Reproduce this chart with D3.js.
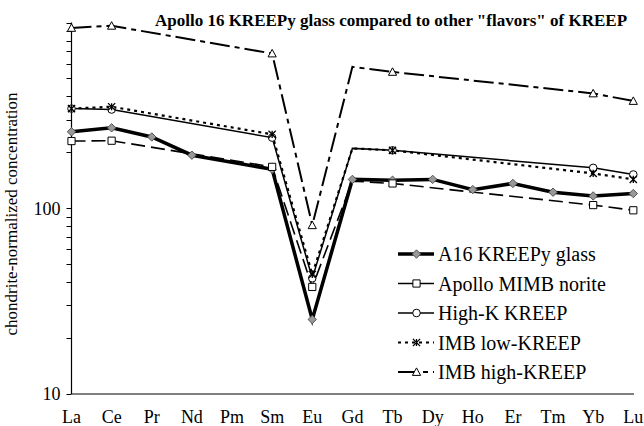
<!DOCTYPE html>
<html lang="en">
<head>
    <meta charset="utf-8">
    <title>Apollo 16 KREEPy glass</title>
    <script src="https://d3js.org/d3.v7.min.js"></script>
    <style>
        html, body { margin: 0; padding: 0; background: #fff; }
        svg text { font-family: "Liberation Serif", "Times New Roman", Times, "DejaVu Serif", serif; fill: #000; }
        .title { font-size: 17px; font-weight: bold; }
        .tick-label { font-size: 18px; }
        .axis-title { font-size: 17px; }
        .legend text { font-size: 20px; }
    </style>
</head>
<body>
<script>
    // REE along the x axis
    var elements = ["La","Ce","Pr","Nd","Pm","Sm","Eu","Gd","Tb","Dy","Ho","Er","Tm","Yb","Lu"];
    var yTicks = [10, 100, 1000];

    // chondrite-normalized values, null = no analysis
    var a16Glass     = [258, 271, 242, 193, null, 162, 25.2, 143, 141.5, 143, 126, 136, 122, 116.5, 120];
    var mimbNorite   = [230, 231, null, null, null, 167, 37.7, 140, 136, null, null, null, null, 104, 97.5];
    var highKKreep   = [344, 340, null, null, null, 240, 42, 210, 205, null, null, null, null, 165, 152];
    var imbLowKreep  = [344, 352, null, null, null, 250, 44, 210, 205, null, null, null, null, 154, 143];
    var imbHighKreep = [935, 960, null, null, null, 681, 81, 577, 542, null, null, null, null, 415, 378];

    var seriesNames = ["A16 KREEPy glass", "Apollo MIMB norite", "High-K KREEP", "IMB low-KREEP", "IMB high-KREEP"];
    var seriesValues = [a16Glass, mimbNorite, highKKreep, imbLowKreep, imbHighKreep];
    // points drawn without a marker
    var unmarked = [[], ["Gd"], ["Gd"], ["Gd"], ["Gd"]];

    var styles = [
        {width: 3.5, dash: null, marker: "diamond"},
        {width: 1.6, dash: "14,6", marker: "square"},
        {width: 1.5, dash: null, marker: "circle"},
        {width: 2.2, dash: "3,4", marker: "star"},
        {width: 2, dash: "20,5,5,5", marker: "triangle"}
    ];

    var W = 644, H = 426;
    var svg = d3.select("body").append("svg").attr("width", W).attr("height", H);

    var x = d3.scalePoint().domain(elements).range([71.5, 633.3]);
    var y = d3.scaleLog().domain([10, 1000]).range([394, 22.5]);

    // title
    svg.append("text").attr("class", "title")
        .attr("x", 391).attr("y", 26).attr("text-anchor", "middle")
        .text('Apollo 16 KREEPy glass compared to other "flavors" of KREEP');

    // y axis with minor ticks
    var minor = [];
    [10, 100].forEach(function(dec) {
        for (var k = 1; k <= 10; k++) minor.push(dec * k);
    });
    minor = minor.filter(function(v, i, a) { return a.indexOf(v) === i; });
    var yAxis = svg.append("g").attr("transform", "translate(71.5,0)");
    yAxis.append("line").attr("x1", 0).attr("x2", 0).attr("y1", y(1000)).attr("y2", y(10))
        .attr("stroke", "#000").attr("stroke-width", 1.2);
    yAxis.selectAll("line.tk").data(minor).enter().append("line").attr("class", "tk")
        .attr("x1", -5).attr("x2", 0)
        .attr("y1", function(d) { return Math.round(y(d)) + 0.5; })
        .attr("y2", function(d) { return Math.round(y(d)) + 0.5; })
        .attr("stroke", "#000").attr("stroke-width", 1);
    yAxis.selectAll("text.tick-label").data(yTicks.slice(0, 2)).enter().append("text")
        .attr("class", "tick-label").attr("x", -11).attr("y", function(d) { return y(d); })
        .attr("dy", "0.35em").attr("text-anchor", "end").text(function(d) { return d; });

    svg.append("text").attr("class", "axis-title")
        .attr("transform", "translate(17,214) rotate(-90)").attr("text-anchor", "middle")
        .text("chondrite-normalized concentration");

    // x axis
    svg.append("line").attr("x1", 71.5).attr("x2", 634).attr("y1", y(10)).attr("y2", y(10))
        .attr("stroke", "#000").attr("stroke-width", 1.2);
    svg.selectAll("text.xl").data(elements).enter().append("text").attr("class", "tick-label xl")
        .attr("x", function(d) { return x(d); }).attr("y", 423).attr("text-anchor", "middle")
        .text(function(d) { return d; });

    function markerPath(type) {
        var r = 3.6;
        if (type === "diamond") return "M0," + (-r - 0.6) + "L" + (r + 0.6) + ",0L0," + (r + 0.6) + "L" + (-r - 0.6) + ",0Z";
        if (type === "square") return "M" + -r + "," + -r + "h" + 2 * r + "v" + 2 * r + "h" + -2 * r + "Z";
        if (type === "triangle") return "M0," + (-r - 0.5) + "L" + (r + 0.5) + "," + (r - 0.2) + "L" + (-r - 0.5) + "," + (r - 0.2) + "Z";
        if (type === "star") return "M0," + -r + "V" + r + "M" + -r + "," + -r + "L" + r + "," + r + "M" + -r + "," + r + "L" + r + "," + -r;
        return null;
    }

    function drawMarker(g, type, cx, cy) {
        if (type === "circle") {
            g.append("circle").attr("cx", cx).attr("cy", cy).attr("r", 3.8)
                .attr("fill", "#fff").attr("stroke", "#000").attr("stroke-width", 1);
            return;
        }
        var p = g.append("path").attr("d", markerPath(type))
            .attr("transform", "translate(" + cx + "," + cy + ")");
        if (type === "diamond") p.attr("fill", "#999").attr("stroke", "#555").attr("stroke-width", 1);
        else if (type === "star") p.attr("fill", "none").attr("stroke", "#000").attr("stroke-width", 1.3);
        else p.attr("fill", "#fff").attr("stroke", "#000").attr("stroke-width", 1);
    }

    var line = d3.line()
        .x(function(d) { return x(d.el); })
        .y(function(d) { return y(d.v); });

    var plot = svg.append("g");
    seriesValues.forEach(function(vals, i) {
        var pts = elements.map(function(el, j) { return {el: el, v: vals[j]}; })
            .filter(function(d) { return d.v != null; });
        var st = styles[i];
        plot.append("path").attr("d", line(pts))
            .attr("fill", "none").attr("stroke", "#000")
            .attr("stroke-width", st.width).attr("stroke-dasharray", st.dash)
            .attr("stroke-linejoin", "miter");
    });
    seriesValues.forEach(function(vals, i) {
        elements.forEach(function(el, j) {
            if (vals[j] == null || unmarked[i].indexOf(el) >= 0) return;
            drawMarker(plot, styles[i].marker, x(el), y(vals[j]));
        });
    });

    // legend
    var legend = svg.append("g").attr("class", "legend");
    seriesNames.forEach(function(name, i) {
        var ly = 254 + i * 29.5;
        var st = styles[i];
        legend.append("line").attr("x1", 398).attr("x2", 434).attr("y1", ly).attr("y2", ly)
            .attr("stroke", "#000").attr("stroke-width", st.width)
            .attr("stroke-dasharray", st.dash === "14,6" ? null : st.dash);
        drawMarker(legend, st.marker, 416.5, ly);
        legend.append("text").attr("x", 438).attr("y", ly).attr("dy", "0.35em").text(name);
    });
</script>
</body>
</html>
